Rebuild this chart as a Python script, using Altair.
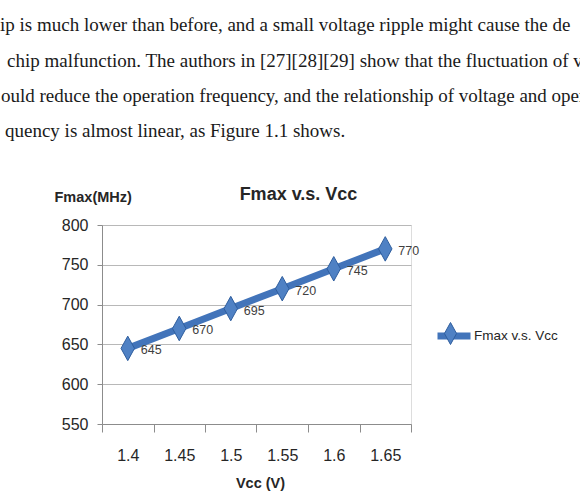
import altair as alt
import pandas as pd

# ---- data ----
vcc = [1.4, 1.45, 1.5, 1.55, 1.6, 1.65]
fmax = [645, 670, 695, 720, 745, 770]
series_name = "Fmax v.s. Vcc"
y_ticks = [550, 600, 650, 700, 750, 800]
half_step = 0.025
x_tick_edges = [round(v - half_step, 3) for v in vcc] + [round(vcc[-1] + half_step, 3)]

body_lines = [
    "ip is much lower than before, and a small voltage ripple might cause the de",
    "chip malfunction. The authors in [27][28][29] show that the fluctuation of vo",
    "ould reduce the operation frequency, and the relationship of voltage and opera",
    "quency is almost linear, as Figure 1.1 shows.",
]
body_x = [0, 7, 1, 5]
body_y = [31, 67, 102, 137]

df = pd.DataFrame({"vcc": vcc, "fmax": fmax, "series": [series_name] * len(vcc)})

SANS = "'Liberation Sans', Arial, sans-serif"
SERIF = "'Liberation Serif', 'DejaVu Serif', serif"
BLUE = "#4274ba"
BLUE_FILL = "#4f81c4"
BLUE_EDGE = "#2f5e9e"
TXT = "#262626"
DIAMOND = "M0,-1L0.55,0L0,1L-0.55,0Z"

PAD_L, PAD_T = 102, 225
W, H = 309, 199

x_enc = alt.X(
    "vcc:Q",
    scale=alt.Scale(domain=[x_tick_edges[0], x_tick_edges[-1]], nice=False, zero=False),
    axis=alt.Axis(
        values=x_tick_edges,
        tickCount=20,
        grid=False,
        tickSize=8,
        tickColor="#8c8c8c",
        domainColor="#8c8c8c",
        labelOffset=W / len(vcc) / 2,
        labelFlush=False,
        labelOverlap=False,
        labelExpr="datum.value > 1.66 ? '' : format(datum.value + 0.025, '.2~f')",
        labelFont=SANS,
        labelFontSize=16,
        labelColor=TXT,
        labelPadding=15,
        title="Vcc (V)",
        titleFont=SANS,
        titleFontSize=14.5,
        titleFontWeight="bold",
        titleColor=TXT,
        titleX=158,
        titleY=63,
        titleAlign="center",
        titleBaseline="alphabetic",
    ),
)
y_enc = alt.Y(
    "fmax:Q",
    scale=alt.Scale(domain=[y_ticks[0], y_ticks[-1]], nice=False, zero=False),
    axis=alt.Axis(
        values=y_ticks,
        tickCount=20,
        grid=True,
        gridColor="#b8b8b8",
        tickSize=5,
        tickColor="#8c8c8c",
        domainColor="#8c8c8c",
        labelFlush=False,
        labelOverlap=False,
        labelFont=SANS,
        labelFontSize=16,
        labelColor=TXT,
        labelPadding=9,
        title="Fmax(MHz)",
        titleAngle=0,
        titleX=-48,
        titleY=-24,
        titleAlign="left",
        titleBaseline="alphabetic",
        titleFont=SANS,
        titleFontSize=14.5,
        titleFontWeight="bold",
        titleColor=TXT,
    ),
)

base = alt.Chart(df)

line = base.mark_line(strokeWidth=7).encode(
    x=x_enc,
    y=y_enc,
    color=alt.Color(
        "series:N",
        scale=alt.Scale(range=[BLUE]),
        legend=alt.Legend(
            orient="none",
            legendX=332,
            legendY=91,
            title=None,
            padding=0,
            symbolType="stroke",
            symbolStrokeWidth=7,
            symbolSize=1089,
            labelFont=SANS,
            labelFontSize=13.5,
            labelColor=TXT,
            labelOffset=0,
        ),
    ),
)

points = base.mark_point(
    filled=True, shape=DIAMOND, size=600, opacity=1, stroke=BLUE_EDGE, strokeWidth=1
).encode(
    x="vcc:Q",
    y="fmax:Q",
    fill=alt.Fill(
        "series:N",
        scale=alt.Scale(range=[BLUE_FILL]),
        legend=alt.Legend(
            orient="none",
            legendX=337,
            legendY=97,
            title=None,
            padding=0,
            symbolType=DIAMOND,
            symbolSize=484,
            symbolStrokeColor=BLUE_EDGE,
            symbolStrokeWidth=1,
            labelExpr="''",
            labelFontSize=1,
        ),
    ),
)

labels = base.mark_text(
    align="left", baseline="middle", dx=13, dy=2, font=SANS, fontSize=12.5, color="#404040"
).encode(x="vcc:Q", y="fmax:Q", text="fmax:Q")

body_layers = []
for t, bx, by in zip(body_lines, body_x, body_y):
    body_layers.append(
        alt.Chart(pd.DataFrame({"t": [t]}))
        .mark_text(align="left", baseline="alphabetic", font=SERIF, fontSize=19, color="#1a1a1a")
        .encode(x=alt.value(bx - PAD_L), y=alt.value(by - PAD_T), text="t:N")
    )

chart = (
    alt.layer(line, points, labels, *body_layers)
    .properties(
        width=W,
        height=H,
        autosize=alt.AutoSizeParams(type="none"),
        padding={"left": PAD_L, "top": PAD_T, "right": 580 - PAD_L - W, "bottom": 501 - PAD_T - H},
        title=alt.TitleParams(
            text="Fmax v.s. Vcc",
            anchor="middle",
            baseline="alphabetic",
            dx=42,
            dy=206,
            font=SANS,
            fontSize=18,
            fontWeight="bold",
            color=TXT,
        ),
    )
    .configure_view(stroke=None)
    .configure(background="white")
)

chart.save("out.html", embed_options={"renderer": "svg", "actions": False})
